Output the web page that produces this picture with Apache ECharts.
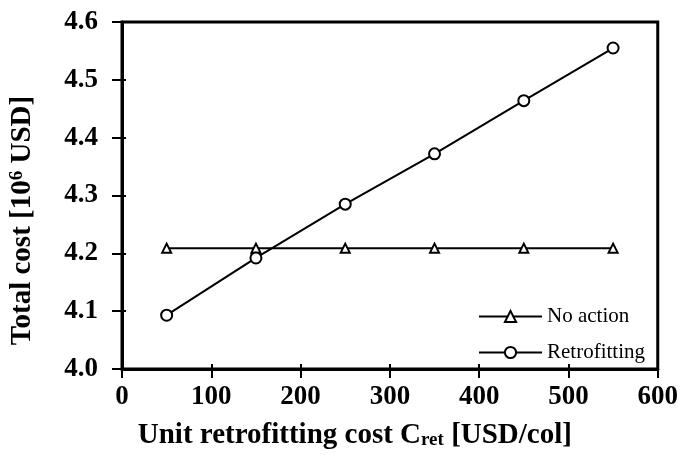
<!DOCTYPE html>
<html>
<head>
<meta charset="utf-8">
<script src="https://cdn.jsdelivr.net/npm/echarts@6/dist/echarts.min.js"></script>
<style>
  html, body { margin: 0; padding: 0; background: #fff; }
  #chart { width: 681px; height: 455px; }
</style>
</head>
<body>
<div id="chart"></div>
<script>
const unitCost = [50, 150, 250, 350, 450, 550]
const noAction = [4.209, 4.209, 4.209, 4.209, 4.209, 4.209]
const retrofitting = [4.093, 4.192, 4.285, 4.372, 4.464, 4.555]
const FONT = '"Liberation Serif", "Times New Roman", serif'

const toPairs = (ys) => unitCost.map((x, i) => [x, ys[i]])

const tickStyle = { color: '#000', width: 2 }
const labelStyle = { fontFamily: FONT, fontSize: 27, fontWeight: 'bold', color: '#000' }

const chart = echarts.init(document.getElementById('chart'))

chart.setOption({
  animation: false,
  grid: {
    left: 122,
    right: 23,
    top: 22,
    bottom: 83,
    show: true,
    borderColor: '#000',
    borderWidth: 3,
  },
  legend: {
    orient: 'vertical',
    left: 473,
    top: 301,
    itemWidth: 63,
    itemHeight: 14,
    itemGap: 15,
    textStyle: { fontFamily: FONT, fontSize: 21, color: '#000' },
    data: ['No action', 'Retrofitting'],
  },
  xAxis: [
    {
      type: 'value',
      min: 0,
      max: 600,
      interval: 100,
      name: 'Unit retrofitting cost C{sub|ret} [USD/col]',
      nameLocation: 'middle',
      nameGap: 52,
      nameTextStyle: {
        fontFamily: FONT, fontSize: 29, fontWeight: 'bold', color: '#000',
        padding: [0, 70, 0, 0],
        rich: {
          sub: { fontFamily: FONT, fontSize: 19, fontWeight: 'bold', color: '#000', verticalAlign: 'bottom', padding: [10, 0, 0, 0] },
        },
      },
      axisLine: { lineStyle: { color: '#000', width: 3 } },
      axisTick: { inside: false, length: 9, lineStyle: tickStyle },
      axisLabel: { ...labelStyle, margin: 15 },
      splitLine: { show: false },
    },
    {
      // inner half of the crossing ticks
      type: 'value',
      position: 'bottom',
      min: 0,
      max: 600,
      interval: 100,
      axisLine: { show: false },
      axisTick: { inside: true, length: 5, lineStyle: tickStyle },
      axisLabel: { show: false },
      splitLine: { show: false },
    },
  ],
  yAxis: [
    {
      type: 'value',
      min: 4.0,
      max: 4.6,
      interval: 0.1,
      name: 'Total cost [10{sup|6} USD]',
      nameLocation: 'middle',
      nameGap: 85,
      nameTextStyle: {
        fontFamily: FONT, fontSize: 29, fontWeight: 'bold', color: '#000',
        padding: [0, 50, 0, 0],
        rich: {
          sup: { fontFamily: FONT, fontSize: 19, fontWeight: 'bold', color: '#000', verticalAlign: 'top', padding: [0, 0, 10, 0] },
        },
      },
      axisLine: { lineStyle: { color: '#000', width: 3 } },
      axisTick: { inside: false, length: 10, lineStyle: tickStyle },
      axisLabel: { ...labelStyle, margin: 24, formatter: (v) => v.toFixed(1) },
      splitLine: { show: false },
    },
    {
      type: 'value',
      position: 'left',
      min: 4.0,
      max: 4.6,
      interval: 0.1,
      axisLine: { show: false },
      axisTick: { inside: true, length: 4, lineStyle: tickStyle },
      axisLabel: { show: false },
      splitLine: { show: false },
    },
  ],
  series: [
    {
      name: 'No action',
      type: 'line',
      data: toPairs(noAction),
      symbol: 'triangle',
      symbolSize: 9,
      lineStyle: { color: '#000', width: 2 },
      itemStyle: { color: '#fff', borderColor: '#000', borderWidth: 2 },
    },
    {
      name: 'Retrofitting',
      type: 'line',
      data: toPairs(retrofitting),
      symbol: 'circle',
      symbolSize: 11,
      lineStyle: { color: '#000', width: 2 },
      itemStyle: { color: '#fff', borderColor: '#000', borderWidth: 2 },
    },
  ],
})
</script>
</body>
</html>
